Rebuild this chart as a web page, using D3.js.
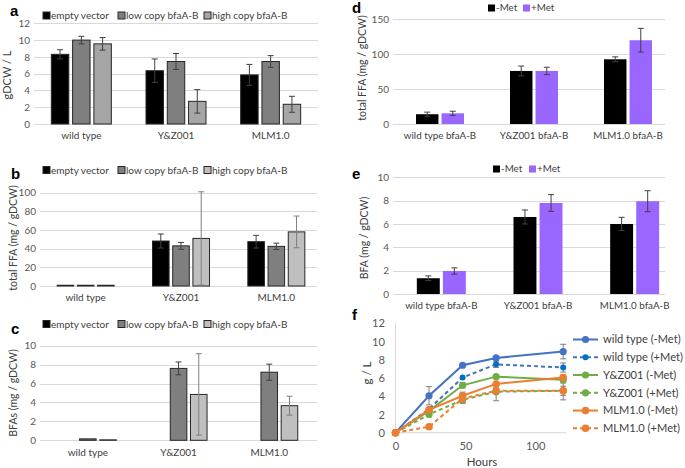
<!DOCTYPE html>
<html><head><meta charset="utf-8">
<script src="https://cdn.jsdelivr.net/npm/d3@7"></script>
<style>body{margin:0;background:#fff} svg{display:block} text{font-family:Lato,"Open Sans",sans-serif}</style>
</head><body><svg id="chart" width="685" height="468"></svg>
<script>
// ---------- DATA ----------
const strainsABC = ["wild type", "Y&Z001", "MLM1.0"];
const seriesABC = ["empty vector", "low copy bfaA-B", "high copy bfaA-B"];

const aEmpty = [8.3, 6.35, 5.85],   aEmptyErr = [0.55, 1.4, 1.25];
const aLow   = [10.0, 7.45, 7.45],  aLowErr   = [0.45, 0.95, 0.7];
const aHigh  = [9.55, 2.7, 2.35],   aHighErr  = [0.75, 1.4, 0.95];

const bEmpty = [0.8, 48.2, 47.5],   bEmptyErr = [0, 7.5, 6.8];
const bLow   = [0.8, 43.0, 42.5],   bLowErr   = [0, 3.7, 3.4];
const bHigh  = [0.8, 51.0, 58.0],   bHighErr  = [0, 50, 17];

const cEmpty = [0, 0, 0],           cEmptyErr = [0, 0, 0];
const cLow   = [0.15, 7.6, 7.2],    cLowErr   = [0, 0.68, 0.85];
const cHigh  = [0.05, 4.85, 3.66],  cHighErr  = [0, 4.3, 1.0];

const strainsDE = ["wild type bfaA-B", "Y&Z001 bfaA-B", "MLM1.0 bfaA-B"];
const seriesDE = ["-Met", "+Met"];
const dMinus = [14, 76, 92.7],      dMinusErr = [3, 7, 3.5];
const dPlus  = [15.3, 76, 120],     dPlusErr  = [3, 5.3, 17];
const eMinus = [1.35, 6.6, 6.0],    eMinusErr = [0.2, 0.6, 0.57];
const ePlus  = [1.97, 7.8, 7.95],   ePlusErr  = [0.27, 0.72, 0.9];

const hours = [0, 24, 48, 72, 120];
const fNames = ["wild type (-Met)", "wild type (+Met)", "Y&Z001 (-Met)", "Y&Z001 (+Met)", "MLM1.0 (-Met)", "MLM1.0 (+Met)"];
const wtMinus  = [0, 4.05, 7.4, 8.2, 8.9],   wtMinusErr  = [0, 1.0, 0, 0, 0.8];
const wtPlus   = [0, 2.6, 6.05, 7.5, 7.15],  wtPlusErr   = [0, 0, 0, 0.35, 0.5];
const yzMinus  = [0, 2.4, 5.2, 6.15, 5.8],   yzMinusErr  = [0, 0, 0.3, 0, 0.35];
const yzPlus   = [0, 2.0, 3.6, 4.5, 4.6],    yzPlusErr   = [0, 0, 0.35, 1.0, 1.0];
const mlmMinus = [0, 2.5, 4.05, 5.35, 6.05], mlmMinusErr = [0, 0, 0.4, 0, 0.3];
const mlmPlus  = [0, 0.65, 3.75, 4.6, 4.6],  mlmPlusErr  = [0, 0, 0.5, 0.3, 0.5];

const ticksA = [0, 2, 4, 6, 8, 10, 12];
const ticksB = [0, 20, 40, 60, 80, 100];
const ticksC = [0, 2, 4, 6, 8, 10];
const ticksD = [0, 50, 100, 150];
const ticksE = [0, 2, 4, 6, 8, 10];
const ticksFy = [0, 2, 4, 6, 8, 10, 12];
const ticksFx = [0, 50, 100];

// ---------- DRAWING ----------
const svg = d3.select("#chart");
const TXT = "#404040", TICK = "#595959", GRID = "#d9d9d9";
const FONT = 'Lato,sans-serif';

function barPanel(o) {
  const g = svg.append("g");
  const x0 = d3.scaleBand().domain(o.cats).range(o.xRange);
  const bw = x0.bandwidth();
  const x1 = d3.scaleBand().domain(o.series.map(s => s.name))
    .range([(bw - o.groupW) / 2, (bw + o.groupW) / 2]).paddingInner(o.pad);
  const y = d3.scaleLinear().domain(o.yDomain).range(o.yRange);

  g.selectAll(".grid").data(o.ticks).join("line")
    .attr("x1", o.grid[0]).attr("x2", o.grid[1])
    .attr("y1", d => Math.round(y(d)) + 0.5).attr("y2", d => Math.round(y(d)) + 0.5)
    .attr("stroke", GRID).attr("stroke-width", 1);
  const ax = d3.axisLeft(y).tickValues(o.ticks).tickSize(0).tickPadding(0);
  const axg = g.append("g").attr("transform", `translate(${o.grid[0] - 4},0)`).call(ax);
  axg.select(".domain").remove();
  axg.selectAll("text").attr("fill", TICK).style("font-size", o.tfs + "px").style("font-family", FONT);

  o.series.forEach(s => {
    const sg = g.append("g");
    const data = o.cats.map((c, i) => ({c, v: s.values[i], e: s.errs[i]}));
    sg.selectAll("rect").data(data).join("rect")
      .attr("x", d => x0(d.c) + x1(s.name))
      .attr("width", x1.bandwidth())
      .attr("y", d => y(d.v)).attr("height", d => y(0) - y(d.v))
      .attr("fill", s.fill)
      .attr("stroke", d => d.v > 0 ? (s.stroke || "none") : "none").attr("stroke-width", 1);
    const eb = sg.selectAll("g.err").data(data.filter(d => d.e > 0)).join("g");
    const cx = d => x0(d.c) + x1(s.name) + x1.bandwidth() / 2;
    eb.append("line").attr("x1", cx).attr("x2", cx)
      .attr("y1", d => y(d.v + d.e)).attr("y2", d => y(d.v - d.e))
      .attr("stroke", s.errColor).attr("stroke-width", 1);
    [1, -1].forEach(sgn => {
      eb.append("line").attr("x1", d => cx(d) - 3).attr("x2", d => cx(d) + 3)
        .attr("y1", d => y(d.v + sgn * d.e)).attr("y2", d => y(d.v + sgn * d.e))
        .attr("stroke", s.errColor).attr("stroke-width", 1);
    });
  });

  g.selectAll(".cat").data(o.cats).join("text")
    .attr("x", d => x0(d) + bw / 2).attr("y", o.catY)
    .attr("text-anchor", "middle").attr("fill", TXT).style("font-size", o.fs + "px")
    .text(d => d);

  g.append("text").attr("transform", `translate(${o.titleX},${o.titleY}) rotate(-90)`)
    .attr("text-anchor", "middle").attr("dy", "0.35em").attr("fill", TXT).style("font-size", o.titleFs + "px").text(o.title);

  o.series.forEach((s, i) => {
    const lx = o.legend.xs[i];
    g.append("rect").attr("x", lx).attr("y", o.legend.y - 3.5).attr("width", 7).attr("height", 7)
      .attr("fill", s.fill).attr("stroke", s.stroke || "none");
    g.append("text").attr("x", lx + 8).attr("y", o.legend.y).attr("dy", "0.35em")
      .attr("fill", TXT).style("font-size", o.fs + "px").text(s.name);
  });

  g.append("text").attr("x", o.letter[1]).attr("y", o.letter[2])
    .style("font-family", "Liberation Sans,Arial,sans-serif").style("font-weight", "bold").style("font-size", "15px")
    .attr("fill", "#000").text(o.letter[0]);
}

const abcFill = (light) => [
  {fill: "#000000", stroke: "#262626", errColor: "#404040"},
  {fill: "#7f7f7f", stroke: "#262626", errColor: "#404040"},
  {fill: light, stroke: "#262626", errColor: "#404040"}
];

function mk(names, vals, errs, styles) {
  return names.map((n, i) => Object.assign({name: n, values: vals[i], errs: errs[i]}, styles[i]));
}

barPanel({
  cats: strainsABC, series: mk(seriesABC, [aEmpty, aLow, aHigh], [aEmptyErr, aLowErr, aHighErr], abcFill("#a6a6a6")),
  xRange: [34, 318], grid: [34, 318], groupW: 60, pad: 0.18,
  yDomain: [0, 12], yRange: [124, 23.3], ticks: ticksA,
  catY: 139, fs: 10, tfs: 10, title: "gDCW / L", titleX: 7, titleY: 75, titleFs: 11,
  legend: {y: 15.5, xs: [43, 118, 204]}, letter: ["a", 10, 16]
});
const bStyles = abcFill("#bfbfbf"); bStyles[2].errColor = "#7f7f7f";
barPanel({
  cats: strainsABC, series: mk(seriesABC, [bEmpty, bLow, bHigh], [bEmptyErr, bLowErr, bHighErr], bStyles),
  xRange: [38, 324], grid: [40, 317], groupW: 57, pad: 0.18,
  yDomain: [0, 100], yRange: [286, 192.7], ticks: ticksB,
  catY: 301, fs: 10, tfs: 10, title: "total FFA (mg / gDCW)", titleX: 13, titleY: 238, titleFs: 10.5,
  legend: {y: 170, xs: [43, 118, 204]}, letter: ["b", 11, 179]
});
const cStyles = abcFill("#bfbfbf"); cStyles[2].errColor = "#7f7f7f";
barPanel({
  cats: strainsABC, series: mk(seriesABC, [cEmpty, cLow, cHigh], [cEmptyErr, cLowErr, cHighErr], cStyles),
  xRange: [42.5, 314.6], grid: [40, 317], groupW: 57, pad: 0.18,
  yDomain: [0, 10], yRange: [440.3, 345.7], ticks: ticksC,
  catY: 456, fs: 10, tfs: 10, title: "BFAs (mg / gDCW)", titleX: 13, titleY: 393, titleFs: 10.5,
  legend: {y: 324, xs: [43, 118, 204]}, letter: ["c", 11, 334]
});
const deStyles = [
  {fill: "#000000", errColor: "#404040"},
  {fill: "#9966ff", errColor: "#404040"}
];
barPanel({
  cats: strainsDE, series: mk(seriesDE, [dMinus, dPlus], [dMinusErr, dPlusErr], deStyles),
  xRange: [393, 675], grid: [393, 665], groupW: 48, pad: 0.12,
  yDomain: [0, 150], yRange: [124, 19.3], ticks: ticksD,
  catY: 138.5, fs: 9.8, tfs: 10, title: "total FFA (mg / gDCW)", titleX: 362, titleY: 68, titleFs: 10.5,
  legend: {y: 8, xs: [488, 523]}, letter: ["d", 352, 13]
});
barPanel({
  cats: strainsDE, series: mk(seriesDE, [eMinus, ePlus], [eMinusErr, ePlusErr], deStyles),
  xRange: [393, 683], grid: [393, 665], groupW: 49, pad: 0.12,
  yDomain: [0, 10], yRange: [294, 177.3], ticks: ticksE,
  catY: 309, fs: 9.8, tfs: 10, title: "BFA (mg / gDCW)", titleX: 364, titleY: 238, titleFs: 10.5,
  legend: {y: 169, xs: [493, 529]}, letter: ["e", 352, 179]
});

(function () {
  const g = svg.append("g");
  const x = d3.scaleLinear().domain([0, 122]).range([395.5, 566]);
  const y = d3.scaleLinear().domain([0, 12]).range([432.7, 323.3]);
  g.append("line").attr("x1", 395.5).attr("x2", 395.5).attr("y1", y(12)).attr("y2", y(0)).attr("stroke", GRID);
  g.append("line").attr("x1", 395.5).attr("x2", 566).attr("y1", y(0)).attr("y2", y(0)).attr("stroke", GRID);
  const ay = g.append("g").attr("transform", "translate(385,0)")
    .call(d3.axisLeft(y).tickValues(ticksFy).tickSize(0).tickPadding(0));
  ay.select(".domain").remove();
  ay.selectAll("text").attr("fill", TICK).style("font-size", "11.2px").style("font-family", FONT);
  const axx = g.append("g").attr("transform", `translate(0,${y(0) + 9})`)
    .call(d3.axisBottom(x).tickValues(ticksFx).tickSize(0).tickPadding(0));
  axx.select(".domain").remove();
  axx.selectAll("text").attr("fill", TICK).style("font-size", "11.2px").attr("dy", "0.71em").style("font-family", FONT);

  const series = [
    {name: fNames[0], v: wtMinus, e: wtMinusErr, color: "#4472c4", mcolor: "#4472c4", dash: null, r: 3.6},
    {name: fNames[1], v: wtPlus, e: wtPlusErr, color: "#4472c4", mcolor: "#0070c0", dash: "4,3", r: 3},
    {name: fNames[2], v: yzMinus, e: yzMinusErr, color: "#70ad47", mcolor: "#70ad47", dash: null, r: 3.6},
    {name: fNames[3], v: yzPlus, e: yzPlusErr, color: "#70ad47", mcolor: "#70ad47", dash: "4,3", r: 3.6},
    {name: fNames[4], v: mlmMinus, e: mlmMinusErr, color: "#ed7d31", mcolor: "#ed7d31", dash: null, r: 3.8},
    {name: fNames[5], v: mlmPlus, e: mlmPlusErr, color: "#ed7d31", mcolor: "#ed7d31", dash: "4,3", r: 3.8}
  ];
  series.forEach(s => {
    const pts = hours.map((h, i) => ({h, v: s.v[i], e: s.e[i]})).filter(d => d.e > 0);
    const eg = g.append("g");
    eg.selectAll("line.v").data(pts).join("line").attr("x1", d => x(d.h)).attr("x2", d => x(d.h))
      .attr("y1", d => y(d.v + d.e)).attr("y2", d => y(d.v - d.e)).attr("stroke", "#7f7f7f");
    [1, -1].forEach(sg => eg.selectAll("line.c" + sg).data(pts).join("line")
      .attr("x1", d => x(d.h) - 3).attr("x2", d => x(d.h) + 3)
      .attr("y1", d => y(d.v + sg * d.e)).attr("y2", d => y(d.v + sg * d.e)).attr("stroke", "#7f7f7f"));
  });
  const line = d3.line().x((d, i) => x(hours[i])).y(d => y(d));
  series.forEach(s => {
    g.append("path").attr("d", line(s.v)).attr("fill", "none").attr("stroke", s.color)
      .attr("stroke-width", 2).attr("stroke-dasharray", s.dash);
    g.selectAll(null).data(s.v).join("circle").attr("cx", (d, i) => x(hours[i])).attr("cy", d => y(d))
      .attr("r", s.r).attr("fill", s.mcolor);
  });
  const ly = d3.scaleLinear().domain([0, 5]).range([339.5, 428.3]);
  series.forEach((s, i) => {
    const yy = ly(i);
    g.append("line").attr("x1", 573).attr("x2", 598).attr("y1", yy).attr("y2", yy)
      .attr("stroke", s.color).attr("stroke-width", 2).attr("stroke-dasharray", s.dash);
    g.append("circle").attr("cx", 585.5).attr("cy", yy).attr("r", s.r).attr("fill", s.mcolor);
    g.append("text").attr("x", 603).attr("y", yy).attr("dy", "0.35em").attr("fill", TXT)
      .style("font-size", "11.1px").text(s.name);
  });
  g.append("text").attr("x", 482).attr("y", 466).attr("text-anchor", "middle").attr("fill", TXT)
    .style("font-size", "11.5px").text("Hours");
  g.append("text").attr("transform", "translate(367,373) rotate(-90)").attr("text-anchor", "middle")
    .attr("dy", "0.35em").attr("fill", TXT).style("font-size", "11.5px").text("g / L");
  g.append("text").attr("x", 352).attr("y", 320)
    .style("font-family", "Liberation Sans,Arial,sans-serif").style("font-weight", "bold").style("font-size", "15px")
    .text("f");
})();
</script></body></html>
